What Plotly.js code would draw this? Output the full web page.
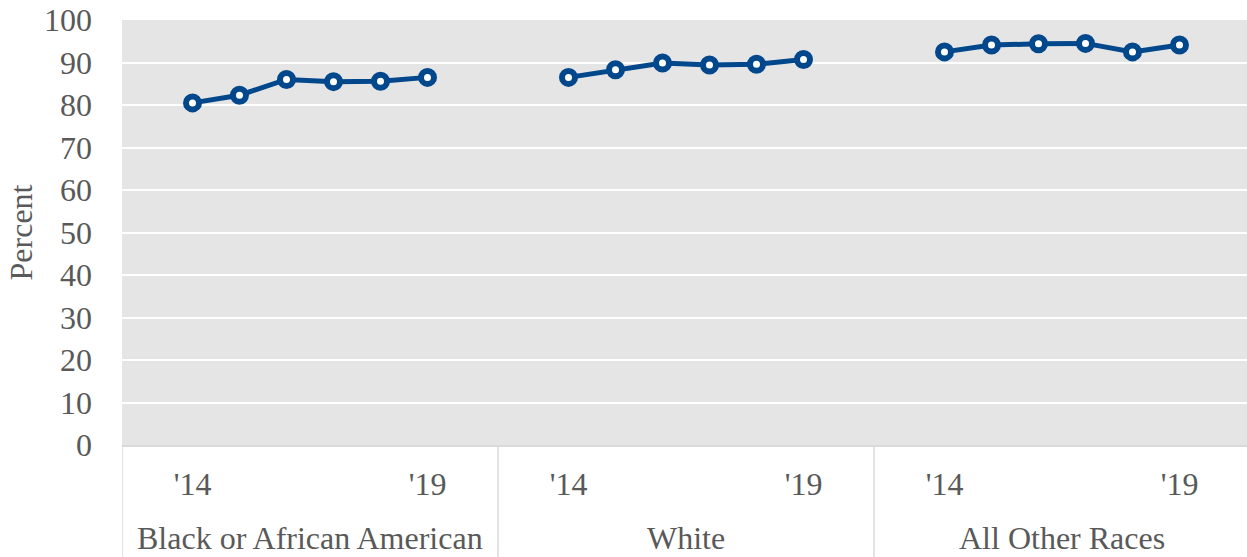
<!DOCTYPE html>
<html>
<head>
<meta charset="utf-8">
<script src="https://cdn.plot.ly/plotly-3.0.1.min.js"></script>
<style>
  html, body { margin: 0; padding: 0; background: #ffffff; overflow: hidden; }
  #chart { width: 1247px; height: 557px; }
</style>
</head>
<body>
<div id="chart"></div>
<script>
// Race groups and survey years
const groups = ['Black or African American', 'White', 'All Other Races'];
const years = ['2014', '2015', '2016', '2017', '2018', '2019'];
const yearTickLabels = ["'14", "'19"];

// Percent by year for each group
const blackValues = [80.5, 82.3, 86.0, 85.5, 85.6, 86.5];
const whiteValues = [86.5, 88.3, 89.9, 89.4, 89.6, 90.7];
const otherValues = [92.5, 94.1, 94.4, 94.5, 92.5, 94.1];

const seriesByGroup = [blackValues, whiteValues, otherValues];

// Each group occupies 8 category slots: an empty slot, six years, an empty slot
const SLOTS_PER_GROUP = years.length + 2;

const xs = [], ys = [];
seriesByGroup.forEach((vals, g) => {
  vals.forEach((v, i) => {
    xs.push(g * SLOTS_PER_GROUP + 1 + i);
    ys.push(v);
  });
  // break the line between groups
  xs.push(g * SLOTS_PER_GROUP + SLOTS_PER_GROUP - 0.5);
  ys.push(null);
});

const tickvals = [], ticktext = [];
groups.forEach((_, g) => {
  tickvals.push(g * SLOTS_PER_GROUP + 1);
  ticktext.push(yearTickLabels[0]);
  tickvals.push(g * SLOTS_PER_GROUP + years.length);
  ticktext.push(yearTickLabels[1]);
});

const textColor = '#595959';
const fontFamily = 'Liberation Serif, Times New Roman, serif';
const fontSize = 32;
const blue = '#00478b';

const trace = {
  x: xs,
  y: ys,
  type: 'scatter',
  mode: 'lines+markers',
  connectgaps: false,
  line: { color: blue, width: 5 },
  marker: { symbol: 'circle', size: 13, color: '#ffffff', line: { color: blue, width: 6 } },
  hoverinfo: 'skip',
  showlegend: false
};

// Group labels and dividers below the axis
const annotations = groups.map((name, g) => ({
  x: g * SLOTS_PER_GROUP + (SLOTS_PER_GROUP - 1) / 2,
  xref: 'x',
  y: -0.218,
  yref: 'paper',
  text: name,
  showarrow: false,
  xanchor: 'center',
  yanchor: 'middle',
  font: { family: fontFamily, size: fontSize, color: textColor }
}));

const shapes = [];
for (let g = 0; g <= groups.length; g++) {
  shapes.push({
    type: 'line',
    xref: 'x', yref: 'paper',
    x0: g * SLOTS_PER_GROUP - 0.5, x1: g * SLOTS_PER_GROUP - 0.5,
    y0: 0, y1: -0.3,
    line: { color: '#d9d9d9', width: 1.5 },
    layer: 'above'
  });
}

const layout = {
  width: 1247,
  height: 557,
  margin: { l: 122, r: 0, t: 20, b: 112 },
  paper_bgcolor: '#ffffff',
  plot_bgcolor: '#e5e5e5',
  font: { family: fontFamily, size: fontSize, color: textColor },
  xaxis: {
    range: [-0.5, -0.5 + 1125 / 47],
    tickmode: 'array',
    tickvals: tickvals,
    ticktext: ticktext,
    showgrid: false,
    zeroline: false,
    showline: true,
    linecolor: '#d9d9d9',
    linewidth: 1.5,
    ticks: '',
    ticklabelstandoff: 10,
    tickfont: { family: fontFamily, size: fontSize, color: textColor },
    fixedrange: true
  },
  yaxis: {
    range: [0, 100],
    tickvals: [0, 10, 20, 30, 40, 50, 60, 70, 80, 90, 100],
    showgrid: true,
    gridcolor: '#ffffff',
    gridwidth: 2,
    zeroline: false,
    showline: false,
    ticks: '',
    ticklabelstandoff: 29,
    tickfont: { family: fontFamily, size: fontSize, color: textColor },
    title: { text: 'Percent', font: { family: fontFamily, size: fontSize, color: textColor }, standoff: 1 },
    fixedrange: true
  },
  annotations: annotations,
  shapes: shapes
};

Plotly.newPlot('chart', [trace], layout, { displayModeBar: false, staticPlot: true });
</script>
</body>
</html>
